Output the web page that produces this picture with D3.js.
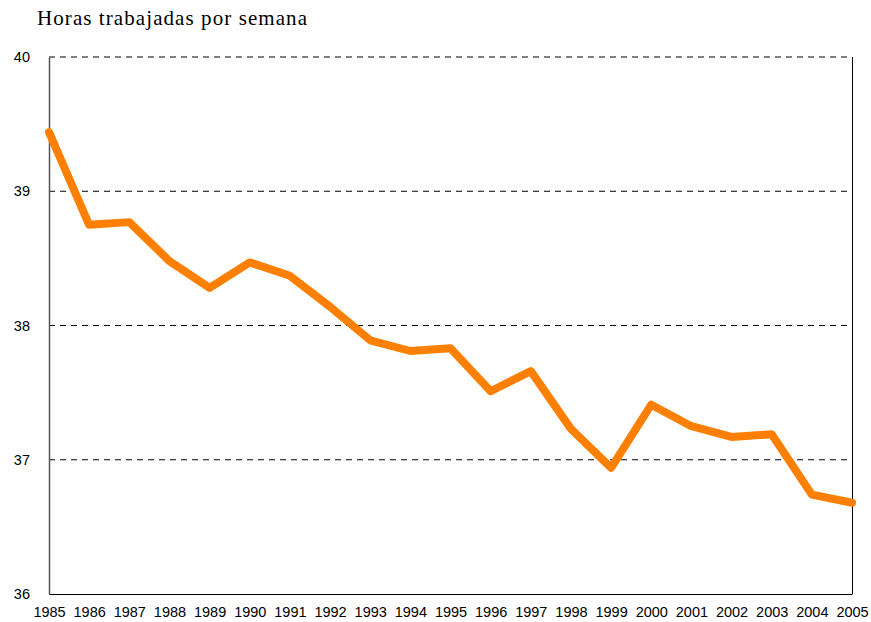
<!DOCTYPE html>
<html>
<head>
<meta charset="utf-8">
<script src="https://cdn.jsdelivr.net/npm/d3@7"></script>
<style>
  body { margin: 0; background: #fff; }
</style>
</head>
<body>
<div id="chart"></div>
<script>
const years = [1985, 1986, 1987, 1988, 1989, 1990, 1991, 1992, 1993, 1994, 1995,
               1996, 1997, 1998, 1999, 2000, 2001, 2002, 2003, 2004, 2005];
const hours = [39.44, 38.75, 38.77, 38.48, 38.28, 38.47, 38.37, 38.14, 37.89, 37.81, 37.83,
               37.51, 37.66, 37.23, 36.94, 37.41, 37.25, 37.17, 37.19, 36.74, 36.68];
const yTicks = [36, 37, 38, 39, 40];
const title = "Horas trabajadas por semana";

const width = 871;
const height = 622;
const margin = {top: 57, right: 19, bottom: 28, left: 49};

const svg = d3.select("#chart").append("svg")
    .attr("width", width)
    .attr("height", height);

const x = d3.scalePoint()
    .domain(years)
    .range([margin.left, width - margin.right]);

const y = d3.scaleLinear()
    .domain([36, 40])
    .range([height - margin.bottom, margin.top]);

// gridlines
svg.append("g")
    .selectAll("line")
    .data(yTicks.filter(d => d > 36))
    .join("line")
    .attr("x1", margin.left)
    .attr("x2", width - margin.right)
    .attr("y1", d => y(d))
    .attr("y2", d => y(d))
    .attr("stroke", "#000")
    .attr("stroke-width", 1)
    .attr("stroke-dasharray", "6,5");

// right border
svg.append("line")
    .attr("x1", width - margin.right + 0.5)
    .attr("x2", width - margin.right + 0.5)
    .attr("y1", margin.top)
    .attr("y2", height - margin.bottom)
    .attr("stroke", "#000");

// y axis
svg.append("g")
    .attr("transform", `translate(${margin.left},0)`)
    .call(d3.axisLeft(y).tickValues(yTicks).tickSize(0).tickPadding(19).tickFormat(d3.format("d")))
    .call(g => g.select(".domain").attr("stroke", "#555").attr("stroke-width", 1.5))
    .call(g => g.selectAll("text").attr("font-family", "Liberation Sans, Arial, sans-serif")
        .attr("font-size", 14.5).attr("fill", "#000"));

// x axis
svg.append("g")
    .attr("transform", `translate(0,${height - margin.bottom})`)
    .call(d3.axisBottom(x).tickSize(0).tickPadding(13).tickFormat(d3.format("d")))
    .call(g => g.select(".domain").attr("stroke", "#000").attr("stroke-width", 1))
    .call(g => g.selectAll("text").attr("font-family", "Liberation Sans, Arial, sans-serif")
        .attr("font-size", 14.5).attr("fill", "#000"));

// line
const line = d3.line()
    .x((d, i) => x(years[i]))
    .y(d => y(d));

svg.append("path")
    .datum(hours)
    .attr("d", line)
    .attr("fill", "none")
    .attr("stroke", "#ff8000")
    .attr("stroke-width", 8)
    .attr("stroke-linejoin", "round")
    .attr("stroke-linecap", "round");

// title
svg.append("text")
    .attr("x", 37)
    .attr("y", 25)
    .attr("font-family", "Liberation Serif, Times New Roman, serif")
    .attr("font-size", 21)
    .attr("textLength", 270)
    .attr("lengthAdjust", "spacing")
    .attr("fill", "#000")
    .text(title);
</script>
</body>
</html>
